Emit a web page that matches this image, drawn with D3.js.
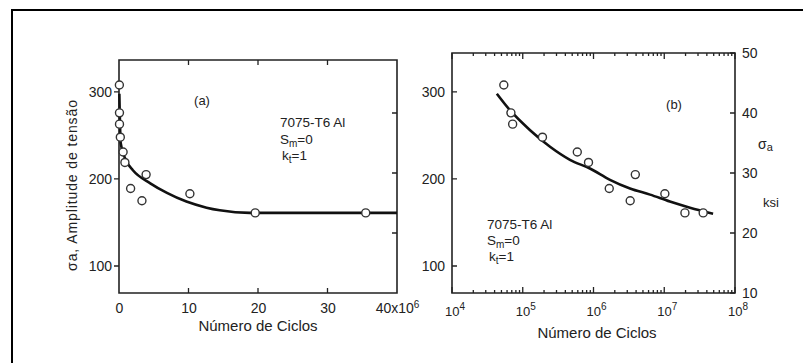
<!DOCTYPE html>
<html>
<head>
<meta charset="utf-8">
<script src="https://cdn.jsdelivr.net/npm/d3@7"></script>
<style>
  body { margin: 0; background: #fff; }
  svg text { font-family: "Liberation Sans", Arial, sans-serif; fill: #222; }
</style>
</head>
<body>
<svg id="chart" width="803" height="363"></svg>
<script>
// Test data, 7075-T6 Al (stress amplitude in MPa vs cycles to failure)
var cycles    = [5.4e4, 6.8e4, 7.2e4, 1.9e5, 5.9e5, 8.5e5, 1.67e6, 3.3e6, 3.9e6, 1.02e7, 1.96e7, 3.55e7];
var stressMPa = [308, 276, 263, 248, 231, 219, 189, 175, 205, 183, 161, 161];

// fitted curve, panel (a) (cycles in 10^6)
var fitACycles = [0.05, 0.25, 1.1, 2.0, 4.5, 6.9, 9.7, 12.6, 14.5, 18.8, 40];
var fitAStress = [298, 241, 220, 210, 195, 184, 174, 167, 164, 161, 161];

// fitted curve, panel (b) (cycles, log axis)
var fitBCycles = [4.3e4, 6.6e4, 1.27e5, 2.43e5, 4.65e5, 8.9e5, 1.71e6, 3.28e6, 6.3e6, 1.2e7, 2.31e7, 4.9e7];
var fitBStress = [298, 279, 256, 237, 222, 212, 199, 189, 182, 174, 167, 160];

// ticks
var mpaTicks = [100, 200, 300];
var linTicks = [0, 10, 20, 30, 40];
var ksiTicks = [10, 20, 30, 40, 50];
var decades  = [4, 5, 6, 7, 8];

var KSI = 6.895; // MPa per ksi

let svg = d3.select("#chart");

// outer box
svg.append("rect")
  .attr("x", 12).attr("y", 10)
  .attr("width", 800).attr("height", 400)
  .style("fill", "none").style("stroke", "#000").style("stroke-width", "2px");

// shared y scales (both panels use the same stress scale)
let yKsi = d3.scaleLinear().domain([10, 50]).range([293, 53]);
let yMpa = d3.scaleLinear().domain([10 * KSI, 50 * KSI]).range([293, 53]);

let xLin = d3.scaleLinear().domain([0, 40]).range([119, 397]);
let xLog = d3.scaleLog().domain([1e4, 1e8]).range([452, 735]);

let aTop = 60;
let bTop = 53;
let bottomY = 293;

// axis labels only; tick marks are drawn as paths below
let styleAxis = function (g) {
  g.select(".domain").remove();
  g.selectAll(".tick line").remove();
  g.selectAll("text").attr("font-size", 14).style("fill", "#222");
};

// tick marks as one path: vertical ticks at x positions, or horizontal at y positions
let tickPath = function (parent, positions, horizontal, base, len) {
  let p = d3.path();
  positions.forEach(function (v) {
    if (horizontal) { p.moveTo(base, v); p.lineTo(base + len, v); }
    else { p.moveTo(v, base); p.lineTo(v, base + len); }
  });
  parent.append("path").attr("d", p.toString())
    .style("fill", "none").style("stroke", "#222").style("stroke-width", "1.3px");
};

let framePath = function (parent, x0, y0, x1, y1) {
  let p = d3.path();
  p.rect(x0, y0, x1 - x0, y1 - y0);
  parent.append("path").attr("d", p.toString())
    .style("fill", "none").style("stroke", "#222").style("stroke-width", "1.6px");
};

// ---------------- Panel (a) ----------------
let pa = svg.append("g").attr("class", "panelA");

pa.append("g")
  .attr("transform", "translate(119,0)")
  .call(d3.axisLeft(yMpa).tickValues(mpaTicks).tickSize(5).tickPadding(2))
  .call(styleAxis);
tickPath(pa, mpaTicks.map(yMpa), true, xLin(0), -5);

let aBottom = pa.append("g")
  .attr("transform", "translate(0," + bottomY + ")")
  .call(d3.axisBottom(xLin).tickValues(linTicks).tickSize(-5).tickPadding(10)
    .tickFormat((d) => (d === 40 ? "40x10" : d)))
  .call(styleAxis);
aBottom.selectAll(".tick")
  .filter((d) => d === 40)
  .select("text")
  .append("tspan").attr("dy", "-0.45em").attr("font-size", 10).text("6");

tickPath(pa, [10, 20, 30].map(xLin), false, bottomY, -5);
tickPath(pa, [10, 20, 30].map(xLin), false, aTop, 5);
tickPath(pa, [20, 30, 40].map(yKsi), true, xLin(40), -5);

let lineA = d3.line()
  .x((d) => xLin(d[0]))
  .y((d) => yMpa(d[1]))
  .curve(d3.curveMonotoneX);

framePath(pa, xLin(0), aTop, xLin(40), bottomY);

pa.append("path")
  .datum(d3.zip(fitACycles, fitAStress))
  .attr("d", lineA)
  .style("fill", "none").style("stroke", "#111").style("stroke-width", "2.6px");

pa.selectAll("circle")
  .data(d3.zip(cycles, stressMPa))
  .enter()
  .append("circle")
  .attr("cx", (d) => xLin(d[0] / 1e6))
  .attr("cy", (d) => yMpa(d[1]))
  .attr("r", 4)
  .style("fill", "#fff").style("stroke", "#333").style("stroke-width", "1.4px");

pa.append("text").attr("x", 202).attr("y", 105)
  .attr("text-anchor", "middle").attr("font-size", 13).text("(a)");

let noteA = pa.append("g").attr("font-size", 13.5);
noteA.append("text").attr("x", 280).attr("y", 127).text("7075-T6 Al");
let smA = noteA.append("text").attr("x", 280).attr("y", 144);
smA.append("tspan").text("S");
smA.append("tspan").attr("font-size", 10).attr("dy", 3).text("m");
smA.append("tspan").attr("dy", -3).text("=0");
let ktA = noteA.append("text").attr("x", 282).attr("y", 160);
ktA.append("tspan").text("k");
ktA.append("tspan").attr("font-size", 10).attr("dy", 3).text("t");
ktA.append("tspan").attr("dy", -3).text("=1");

pa.append("text")
  .attr("transform", "translate(77,185) rotate(-90)")
  .attr("text-anchor", "middle")
  .attr("font-size", 14)
  .style("letter-spacing", "0.9px")
  .text("σa, Amplitude de tensão");

pa.append("text").attr("x", 258).attr("y", 331)
  .attr("text-anchor", "middle").attr("font-size", 15).text("Número de Ciclos");

// ---------------- Panel (b) ----------------
let pb = svg.append("g").attr("class", "panelB");

pb.append("g")
  .attr("transform", "translate(452,0)")
  .call(d3.axisLeft(yMpa).tickValues(mpaTicks).tickSize(-5).tickPadding(7))
  .call(styleAxis);
tickPath(pb, mpaTicks.map(yMpa), true, xLog(1e4), 5);

pb.append("g")
  .attr("transform", "translate(735,0)")
  .call(d3.axisRight(yKsi).tickValues(ksiTicks).tickSize(-5).tickPadding(7))
  .call(styleAxis);
tickPath(pb, ksiTicks.map(yKsi), true, xLog(1e8), -5);

// minor ticks 2..9 per decade
let minorTicks = [];
decades.slice(0, -1).forEach(function (e) {
  for (var m = 2; m <= 9; m++) minorTicks.push(m * Math.pow(10, e));
});
let decadeVals = decades.map((e) => Math.pow(10, e));

tickPath(pb, minorTicks.map(xLog), false, bottomY, -3);
tickPath(pb, decadeVals.map(xLog), false, bottomY, -6);
tickPath(pb, minorTicks.map(xLog), false, bTop, 3);
tickPath(pb, decadeVals.map(xLog), false, bTop, 6);

// decade labels 10^n
let decLabels = pb.selectAll(".decLabel")
  .data(decades)
  .enter()
  .append("text")
  .attr("class", "decLabel")
  .attr("x", (d) => xLog(Math.pow(10, d)) - 7)
  .attr("y", 316)
  .attr("font-size", 13);
decLabels.append("tspan").text("10");
decLabels.append("tspan").attr("dy", -6).attr("font-size", 10).text((d) => d);

framePath(pb, xLog(1e4), bTop, xLog(1e8), bottomY);

let lineB = d3.line()
  .x((d) => xLog(d[0]))
  .y((d) => yMpa(d[1]))
  .curve(d3.curveMonotoneX);

pb.append("path")
  .datum(d3.zip(fitBCycles, fitBStress))
  .attr("d", lineB)
  .style("fill", "none").style("stroke", "#111").style("stroke-width", "2.6px");

pb.selectAll("circle")
  .data(d3.zip(cycles, stressMPa))
  .enter()
  .append("circle")
  .attr("cx", (d) => xLog(d[0]))
  .attr("cy", (d) => yMpa(d[1]))
  .attr("r", 4)
  .style("fill", "#fff").style("stroke", "#333").style("stroke-width", "1.4px");

pb.append("text").attr("x", 674).attr("y", 109)
  .attr("text-anchor", "middle").attr("font-size", 13).text("(b)");

let noteB = pb.append("g").attr("font-size", 13.5);
noteB.append("text").attr("x", 487).attr("y", 229).text("7075-T6 Al");
let smB = noteB.append("text").attr("x", 487).attr("y", 245);
smB.append("tspan").text("S");
smB.append("tspan").attr("font-size", 10).attr("dy", 3).text("m");
smB.append("tspan").attr("dy", -3).text("=0");
let ktB = noteB.append("text").attr("x", 489).attr("y", 261);
ktB.append("tspan").text("k");
ktB.append("tspan").attr("font-size", 10).attr("dy", 3).text("t");
ktB.append("tspan").attr("dy", -3).text("=1");

let sigB = pb.append("text").attr("x", 758).attr("y", 149).attr("font-size", 14);
sigB.append("tspan").text("σ");
sigB.append("tspan").attr("font-size", 11).attr("dy", 2).text("a");
pb.append("text").attr("x", 763).attr("y", 207).attr("font-size", 13).text("ksi");

pb.append("text").attr("x", 597).attr("y", 338)
  .attr("text-anchor", "middle").attr("font-size", 15).text("Número de Ciclos");
</script>
</body>
</html>
